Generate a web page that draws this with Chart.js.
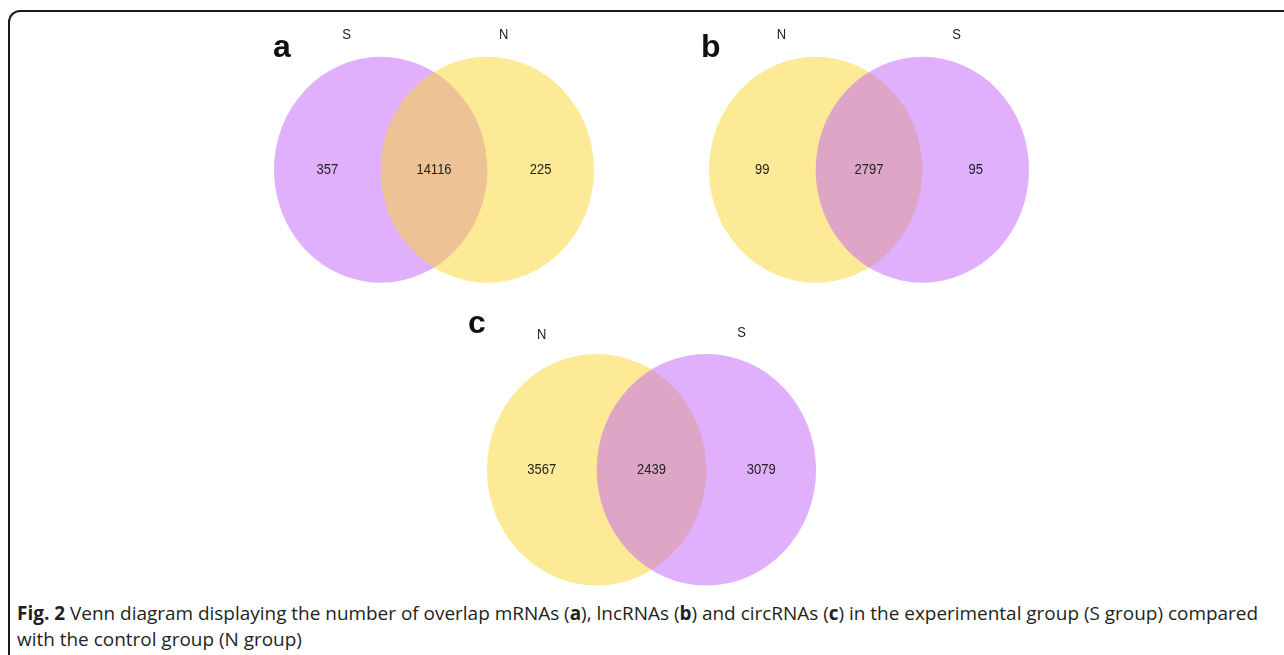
<!DOCTYPE html>
<html>
<head>
<meta charset="utf-8">
<script src="https://cdn.jsdelivr.net/npm/chart.js@4.4.1/dist/chart.umd.min.js"></script>
<style>
  html, body { margin: 0; padding: 0; background: #fff; }
  #page { position: relative; width: 1284px; height: 655px; overflow: hidden; background: #fff; }
  #frame { position: absolute; left: 8px; top: 10px; width: 1500px; height: 900px;
           border-left: 2px solid #1c1c1c; border-top: 2px solid #1c1c1c; border-top-left-radius: 12px; }
  canvas { position: absolute; }
  .tag { position: absolute; font-family: "Liberation Sans", Arial, sans-serif; font-weight: bold;
         font-size: 32px; color: #111; line-height: 1; }
  .cap { position: absolute; left: 17px; font-family: "Open Sans", "Noto Sans", sans-serif; font-size: 19px;
         color: #231f20; white-space: nowrap; transform-origin: 0 0; line-height: 1; }
  .cap b { font-weight: 700; }
</style>
</head>
<body>
<div id="page">
  <div id="frame"></div>
  <canvas id="va" width="384" height="288" style="left:242px; top:6px;"></canvas>
  <canvas id="vb" width="384" height="288" style="left:677px; top:6px;"></canvas>
  <canvas id="vc" width="395" height="295" style="left:454px; top:302px;"></canvas>
  <div class="tag" style="left:273px; top:30px;">a</div>
  <div class="tag" style="left:701px; top:30px;">b</div>
  <div class="tag" style="left:468px; top:306px;">c</div>
  <div class="cap" id="cap1" style="top:604px;"><b>Fig. 2</b> Venn diagram displaying the number of overlap mRNAs (<b>a</b>), lncRNAs (<b>b</b>) and circRNAs (<b>c</b>) in the experimental group (S group) compared</div>
  <div class="cap" id="cap2" style="top:630px;">with the control group (N group)</div>
</div>
<script>
// Set names, left to right, for each diagram
const setsA = ['S', 'N'];
const setsB = ['N', 'S'];
const setsC = ['N', 'S'];

// Region counts: [left only, shared, right only]
const countsA = [357, 14116, 225];
const countsB = [99, 2797, 95];
const countsC = [3567, 2439, 3079];

// Fill colour of each set name (drawn at half opacity, left set first)
const setColors = { S: 'rgba(193, 97, 249, 0.5)', N: 'rgba(251, 213, 45, 0.5)' };

// Where the set-name labels sit, in diagram units (x offset from centre, height)
const labelPosA = [[-0.82, 1.157], [0.654, 1.157]];
const labelPosB = [[-0.82, 1.155], [0.82, 1.155]];
const labelPosC = [[-1.0, 1.13], [0.82, 1.149]];

// Circles of radius 1 whose centres lie half a radius either side of the middle
const RADIUS = 1;
const CENTRES = [-0.5, 0.5];

const vennPlugin = {
  id: 'venn',
  beforeDatasetsDraw(chart) {
    const { ctx, scales: { x, y } } = chart;
    chart.data.datasets.forEach(ds => {
      const p = ds.data[0];
      const cx = x.getPixelForValue(p.x), cy = y.getPixelForValue(p.y);
      const rx = Math.abs(x.getPixelForValue(p.x + ds.radius) - cx);
      const ry = Math.abs(y.getPixelForValue(p.y + ds.radius) - cy);
      ctx.save();
      ctx.beginPath();
      ctx.ellipse(cx, cy, rx, ry, 0, 0, Math.PI * 2);
      ctx.fillStyle = ds.backgroundColor;
      ctx.fill();
      ctx.restore();
    });
  },
  afterDatasetsDraw(chart, args, opts) {
    const { ctx, scales: { x, y } } = chart;
    const ds = chart.data.datasets;
    const l = ds[0].data[0], r = ds[1].data[0];
    const spots = [l.x - ds[0].radius / 2, (l.x + r.x) / 2, r.x + ds[1].radius / 2];
    ctx.save();
    ctx.fillStyle = '#222';
    ctx.textAlign = 'center';
    ctx.textBaseline = 'middle';
    ctx.font = '13px "Liberation Sans", Arial, sans-serif';
    opts.counts.forEach((v, i) => {
      ctx.save();
      ctx.translate(x.getPixelForValue(spots[i]), y.getPixelForValue(0));
      ctx.scale(1, 1.15);
      ctx.fillText(String(v), 0, 0);
      ctx.restore();
    });
    ctx.textBaseline = 'alphabetic';
    ctx.font = '13px "Liberation Sans", Arial, sans-serif';
    ds.forEach((d, i) => {
      const [lx, ly] = opts.labelPos[i];
      ctx.save();
      ctx.translate(x.getPixelForValue(lx), y.getPixelForValue(ly));
      ctx.scale(1, 1.12);
      ctx.fillText(d.label, 0, 0);
      ctx.restore();
    });
    ctx.restore();
  }
};

function venn(id, sets, counts, labelPos) {
  return new Chart(document.getElementById(id), {
    type: 'scatter',
    data: {
      datasets: sets.map((name, i) => ({
        label: name,
        data: [{ x: CENTRES[i], y: 0 }],
        radius: RADIUS,
        pointRadius: 0,
        pointHoverRadius: 0,
        backgroundColor: setColors[name]
      }))
    },
    options: {
      responsive: false,
      animation: false,
      events: [],
      layout: { padding: 0 },
      plugins: {
        legend: { display: false },
        tooltip: { enabled: false },
        venn: { counts, labelPos }
      },
      scales: {
        x: { type: 'linear', min: -1.8, max: 1.8, display: false },
        y: { type: 'linear', min: -1.1, max: 1.45, display: false }
      }
    },
    plugins: [vennPlugin]
  });
}

venn('va', setsA, countsA, labelPosA);
venn('vb', setsB, countsB, labelPosB);
venn('vc', setsC, countsC, labelPosC);

// Fit the caption's first line to the frame width
const c1 = document.getElementById('cap1'), c2 = document.getElementById('cap2');
const k = 1241 / c1.getBoundingClientRect().width;
c1.style.transform = 'scale(' + k + ', 1)';
c2.style.transform = 'scale(' + k + ', 1)';
</script>
</body>
</html>
